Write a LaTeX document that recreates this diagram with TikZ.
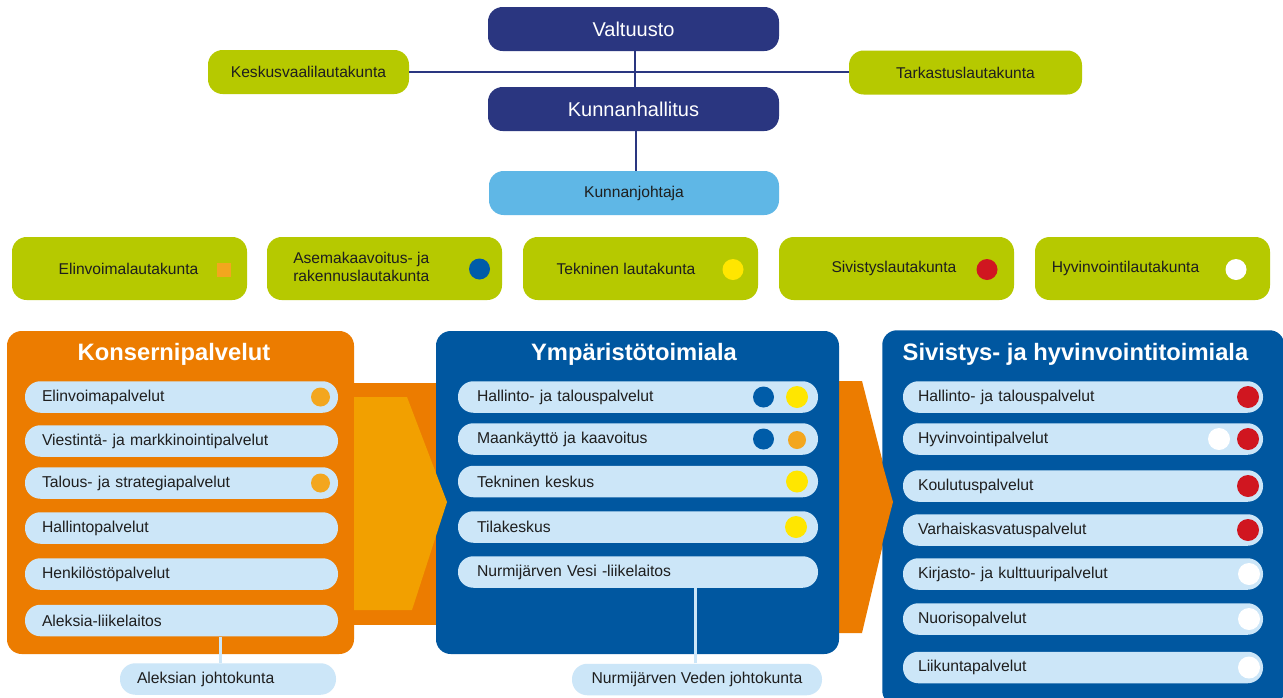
\documentclass[tikz,border=0pt]{standalone}
\usepackage{fontspec}
\setmainfont{Liberation Sans}
\usetikzlibrary{calc}
\definecolor{navy}{RGB}{42,54,128}
\definecolor{lime}{RGB}{182,201,0}
\definecolor{skyb}{RGB}{95,183,230}
\definecolor{orng}{RGB}{236,124,0}
\definecolor{orngl}{RGB}{242,160,0}
\definecolor{pblue}{RGB}{0,87,160}
\definecolor{itemb}{RGB}{204,230,248}
\definecolor{dotor}{RGB}{243,166,30}
\definecolor{dotbl}{RGB}{0,92,168}
\definecolor{dotye}{RGB}{255,230,0}
\definecolor{dotre}{RGB}{208,22,32}
\definecolor{txt}{RGB}{30,30,30}
\def\px{0.75pt}
\tikzset{
  topbox/.style 2 args={rounded corners=11pt, minimum width=#1*\px, minimum height=#2*\px, inner sep=0pt},
  navybox/.style={fill=navy, text=white, font=\fontsize{15}{18}\selectfont},
  limebox/.style={fill=lime, text=txt, font=\fontsize{11.7}{14}\selectfont},
  skybox/.style={fill=skyb, text=txt, font=\fontsize{11.7}{14}\selectfont},
  smalltxt/.style={text=txt, font=\fontsize{11.7}{14}\selectfont, inner sep=0pt},
  panel/.style 2 args={rounded corners=11pt, minimum width=#1*\px, minimum height=#2*\px, inner sep=0pt},
  ptitle/.style={text=white, font=\bfseries\fontsize{17.8}{20}\selectfont, inner sep=0pt, anchor=base},
  item/.style 2 args={fill=itemb, rounded corners=11.5pt, minimum height=31.5*\px, text width=#1, inner xsep=#2, inner ysep=0pt, align=left, text=txt, font=\fontsize{11.8}{14}\selectfont},
  pill/.style={fill=itemb, rounded corners=11.5pt, minimum height=31.5*\px, inner sep=0pt, text=txt, font=\fontsize{11.8}{14}\selectfont},
  dot/.style 2 args={circle, fill=#1, minimum size=#2*\px, inner sep=0pt},
  topline/.style={draw=navy, line width=1.5pt},
  jline/.style={draw=itemb, line width=2.25pt},
}
\begin{document}
\begin{tikzpicture}[x=0.75pt,y=-0.75pt]
\useasboundingbox (0,0) rectangle (1283,697);
\fill[white] (0,0) rectangle (1283,697);

% --- top ---
\node[topbox={291}{44}, navybox] (valt) at (633.5,29) {Valtuusto};
\node[topbox={291}{44}, navybox] (khall) at (633.5,109) {Kunnanhallitus};
\node[topbox={290}{44}, skybox] (kjoht) at (634,193) {Kunnanjohtaja};
\node[topbox={201}{44}, limebox] (kesk) at (308.5,72) {Keskusvaalilautakunta};
\node[topbox={233}{44}, limebox] (tark) at (965.5,72.5) {Tarkastuslautakunta};
\draw[topline] (kesk.east) -- (kesk.east -| tark.west);
\draw[topline] ([xshift=1.5*\px]valt.south) -- ([xshift=1.5*\px]khall.north);
\draw[topline] ([xshift=2.5*\px]khall.south) -- ([xshift=2*\px]kjoht.north);

% --- boards ---
\node[topbox={235}{63}, fill=lime] (b1) at (129.5,268.5) {};
\node[topbox={235}{63}, fill=lime] (b2) at (384.5,268.5) {};
\node[topbox={235}{63}, fill=lime] (b3) at (640.5,268.5) {};
\node[topbox={235}{63}, fill=lime] (b4) at (896.5,268.5) {};
\node[topbox={235}{63}, fill=lime] (b5) at (1152.5,268.5) {};
\node[smalltxt] (b1t) at (128.5,268.5) {Elinvoimalautakunta};
\node[smalltxt, anchor=west, align=left] (b2t) at (293,267) {Asemakaavoitus- ja\\rakennuslautakunta};
\node[smalltxt] (b3t) at (626,268.5) {Tekninen lautakunta};
\node[smalltxt] (b4t) at (894,268.5) {Sivistyslautakunta};
\node[smalltxt] (b5t) at (1125.5,268.5) {Hyvinvointilautakunta};
\node[fill=dotor, minimum width=14*\px, minimum height=14*\px, inner sep=0pt] (b1d) at (224,269.5) {};
\node[dot={dotbl}{21}] (b2d) at (479.5,269) {};
\node[dot={dotye}{21}] (b3d) at (733,269.5) {};
\node[dot={dotre}{21}] (b4d) at (987,269.5) {};
\node[dot={white}{21}] (b5d) at (1236,269.5) {};

% --- arrow bands ---
\fill[orng] (354,383) rectangle (440,625);
\path[fill=orng] (839,381) -- (862,381) -- (893,502) -- (862,633) -- (839,633) -- cycle;

% --- panels ---
\node[panel={347}{323}, fill=orng] (p1) at (180.5,492.5) {};
\node[panel={403}{323}, fill=pblue] (p2) at (637.5,492.5) {};
\path[fill=orngl] (354,397) -- (407,397) -- (447,502) -- (412,610) -- (354,610) -- cycle;
\node[panel={402}{375}, fill=pblue] (p3) at (882,330) [anchor=north west] {};
\path[fill=orng] (881,459) -- (893,502) -- (881,548) -- cycle;

\node[ptitle] (p1t) at (174,360) {Konsernipalvelut};
\node[ptitle] (p2t) at (634,360) {Ympäristötoimiala};
\node[ptitle] (p3t) at (1075.5,360) {Sivistys- ja hyvinvointitoimiala};

% --- panel 1 items ---
\node[item={209.25pt}{12.75pt}] (k1) at (181.5,397) {Elinvoimapalvelut};
\node[item={209.25pt}{12.75pt}] (k2) at (181.5,441) {Viestintä- ja markkinointipalvelut};
\node[item={209.25pt}{12.75pt}] (k3) at (181.5,483) {Talous- ja strategiapalvelut};
\node[item={209.25pt}{12.75pt}] (k4) at (181.5,528) {Hallintopalvelut};
\node[item={209.25pt}{12.75pt}] (k5) at (181.5,574) {Henkilöstöpalvelut};
\node[item={209.25pt}{12.75pt}] (k6) at (181.5,620.5) {Aleksia-liikelaitos};
\node[dot={dotor}{19}] (k1d) at (320.5,397) {};
\node[dot={dotor}{19}] (k3d) at (320.5,483) {};

% --- panel 2 items ---
\node[item={241.5pt}{14.25pt}] (y1) at (638,397) {Hallinto- ja talouspalvelut};
\node[item={241.5pt}{14.25pt}] (y2) at (638,439) {Maankäyttö ja kaavoitus};
\node[item={241.5pt}{14.25pt}] (y3) at (638,481.5) {Tekninen keskus};
\node[item={241.5pt}{14.25pt}] (y4) at (638,527) {Tilakeskus};
\node[item={241.5pt}{14.25pt}] (y5) at (638,572) {Nurmijärven Vesi -liikelaitos};
\node[dot={dotbl}{21}] (y1a) at (763.5,397) {};
\node[dot={dotye}{22}] (y1b) at (797,397) {};
\node[dot={dotbl}{21}] (y2a) at (763.5,439) {};
\node[dot={dotor}{18}] (y2b) at (797,440) {};
\node[dot={dotye}{22}] (y3b) at (797,481.5) {};
\node[dot={dotye}{22}] (y4b) at (796,527) {};

% --- panel 3 items ---
\node[item={247.5pt}{11.25pt}] (s1) at (1083,397) {Hallinto- ja talouspalvelut};
\node[item={247.5pt}{11.25pt}] (s2) at (1083,439) {Hyvinvointipalvelut};
\node[item={247.5pt}{11.25pt}] (s3) at (1083,486) {Koulutuspalvelut};
\node[item={247.5pt}{11.25pt}] (s4) at (1083,530) {Varhaiskasvatuspalvelut};
\node[item={247.5pt}{11.25pt}] (s5) at (1083,574) {Kirjasto- ja kulttuuripalvelut};
\node[item={247.5pt}{11.25pt}] (s6) at (1083,619) {Nuorisopalvelut};
\node[item={247.5pt}{11.25pt}] (s7) at (1083,667.5) {Liikuntapalvelut};
\node[dot={dotre}{22}] (s1d) at (1248,397) {};
\node[dot={white}{22}] (s2w) at (1219,439) {};
\node[dot={dotre}{22}] (s2d) at (1248,439) {};
\node[dot={dotre}{22}] (s3d) at (1248,486) {};
\node[dot={dotre}{22}] (s4d) at (1248,530) {};
\node[dot={white}{22}] (s5d) at (1249,574) {};
\node[dot={white}{22}] (s6d) at (1249,619) {};
\node[dot={white}{22}] (s7d) at (1249,667.5) {};

% --- johtokunnat ---
\node[item={136.5pt}{12.75pt}] (ajk) at (228,679) {Aleksian johtokunta};
\node[pill, minimum width=250*\px] (njk) at (697,679.5) {Nurmijärven Veden johtokunta};
\draw[jline] ([xshift=-8*\px]ajk.north) -- ([xshift=-8*\px]ajk.north |- k6.south);
\draw[jline] ([xshift=-2*\px]njk.north) -- ([xshift=-2*\px]njk.north |- y5.south);
\end{tikzpicture}
\end{document}
